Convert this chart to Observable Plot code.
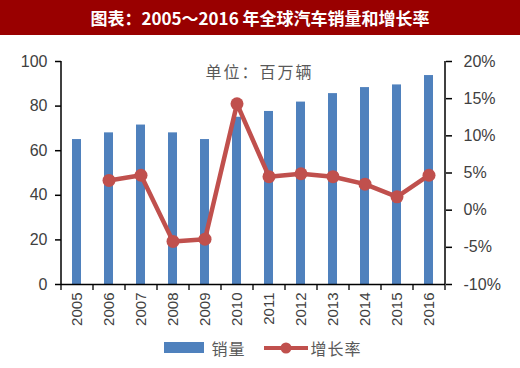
<!DOCTYPE html>
<html><head><meta charset="utf-8">
<script src="https://cdn.jsdelivr.net/npm/d3@7"></script>
<script src="https://cdn.jsdelivr.net/npm/@observablehq/plot@0.6"></script>
<style>
body{margin:0;background:#fff;width:520px;overflow:hidden}
#title{height:35px;background:#990000;color:#fff;font:bold 17px "Noto Sans CJK SC","Liberation Sans",sans-serif;text-align:center;line-height:35px}
#legend{height:33px;display:flex;justify-content:center;align-items:center;font:16px "Noto Sans CJK SC",sans-serif;color:#595959;padding-left:6px;box-sizing:border-box;margin-top:-4px;letter-spacing:1px}
#legend .sw{display:inline-block;width:40px;height:11px;background:#4f81bd;margin-right:7px}
#legend svg{margin:0 3px 0 18px}
#chart svg text.unit{letter-spacing:2px}
</style></head>
<body>
<div id="title">图表：2005～2016 年全球汽车销量和增长率</div>
<div id="chart"></div>
<div id="legend"><span class="sw"></span><span>销量</span><svg width="44" height="14"><line x1="0" y1="7" x2="44" y2="7" stroke="#c0504d" stroke-width="4"/><circle cx="22" cy="7" r="5.5" fill="#c0504d"/></svg><span>增长率</span></div>
<script>
const years = ["2005","2006","2007","2008","2009","2010","2011","2012","2013","2014","2015","2016"];
const sales = [65, 68, 71.5, 68, 65, 75, 77.6, 81.8, 85.6, 88.3, 89.5, 93.7];
const growth = [null, 4.0, 4.7, -4.2, -3.9, 14.3, 4.5, 4.9, 4.5, 3.5, 1.8, 4.7];
const leftTicks = [0, 20, 40, 60, 80, 100];
const rightTicks = [-10, -5, 0, 5, 10, 15, 20];
const unitLabel = "单位：百万辆";

const gMin = -10, gMax = 20;
const toLeft = g => (g - gMin) / (gMax - gMin) * 100;
const fromLeft = v => Math.round(v / 100 * (gMax - gMin) + gMin);

const rows = years.map((y, i) => ({year: y, sales: sales[i], growth: growth[i]}));
const lineRows = rows.filter(d => d.growth != null);

const W = 520, H = 300, mL = 61, mR = 75, mT = 26, mB = 51;
const step = (W - mL - mR) / years.length;
const axisColor = "#000";

const chart = Plot.plot({
  width: W, height: H,
  marginLeft: mL, marginRight: mR, marginTop: mT, marginBottom: mB,
  style: {fontFamily: "'Liberation Sans', sans-serif", fontSize: "15px", color: "#404040", background: "#fff"},
  x: {domain: years, paddingInner: 0.71, paddingOuter: 0.355, axis: null, label: null},
  y: {domain: [0, 100], axis: null, label: null},
  marks: [
    Plot.barY(rows, {x: "year", y: "sales", fill: "#4f81bd"}),
    Plot.line(lineRows, {x: "year", y: d => toLeft(d.growth), stroke: "#c0504d", strokeWidth: 4.5}),
    Plot.dot(lineRows, {x: "year", y: d => toLeft(d.growth), r: 6.5, fill: "#c0504d"}),
    Plot.ruleY([0], {stroke: axisColor, strokeWidth: 1.5}),
    Plot.ruleX([years[0]], {dx: -step / 2, stroke: axisColor, strokeWidth: 1.5}),
    Plot.ruleX([years[years.length - 1]], {dx: step / 2, stroke: axisColor, strokeWidth: 1.5}),
    Plot.ruleX(years, {dx: -step / 2, insetTop: H - mT - mB, insetBottom: -6, stroke: axisColor, strokeWidth: 1.3}),
    Plot.ruleX([years[years.length - 1]], {dx: step / 2, insetTop: H - mT - mB, insetBottom: -6, stroke: axisColor, strokeWidth: 1.3}),
    Plot.axisX({ticks: years, tickSize: 0, tickPadding: 8, tickRotate: -90, fontSize: 15, fill: "#404040", label: null}),
    Plot.axisY({anchor: "left", ticks: leftTicks, tickSize: 6, tickPadding: 8, fontSize: 16, stroke: axisColor, strokeWidth: 1.5, fill: "#404040", label: null}),
    Plot.axisY({anchor: "right", ticks: rightTicks.map(toLeft), tickFormat: v => fromLeft(v) + "%", tickSize: 6, tickPadding: 12, fontSize: 16, stroke: axisColor, strokeWidth: 1.5, fill: "#404040", label: null}),
    Plot.text([unitLabel], {frameAnchor: "top", dx: 6, dy: 11, lineAnchor: "middle", fontSize: 16, fill: "#595959", fontFamily: "'Noto Sans CJK SC', sans-serif", className: "unit"})
  ]
});
chart.querySelectorAll("text").forEach(t => { if (t.textContent === unitLabel) t.style.letterSpacing = "2px"; });
document.getElementById("chart").appendChild(chart);
</script>
</body></html>
